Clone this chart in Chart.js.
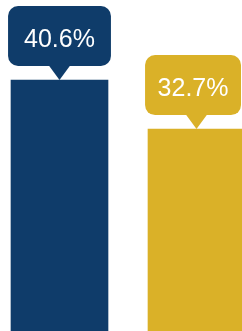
<!DOCTYPE html>
<html>
<head>
<meta charset="utf-8">
<script src="https://cdn.jsdelivr.net/npm/chart.js@4"></script>
<style>
  html, body { margin: 0; padding: 0; background: #fff; overflow: hidden; }
  #wrap { position: relative; width: 242px; height: 331px; overflow: hidden; }
  #box { position: absolute; left: -9px; top: 0; width: 274px; height: 332px; }
</style>
</head>
<body>
<div id="wrap"><div id="box"><canvas id="chart"></canvas></div></div>
<script>
const categories = ["A", "B"];
const values = [40.6, 32.7];
const valueLabels = ["40.6%", "32.7%"];
const barColors = ["#0F3C6A", "#DAB128"];

// callout above each bar, pointer touching the bar top
const callouts = {
  id: "callouts",
  afterDatasetsDraw(chart) {
    const ctx = chart.ctx;
    const meta = chart.getDatasetMeta(0);
    const visRight = 251; // right edge of the window in canvas px
    ctx.save();
    ctx.font = "25px 'Liberation Sans', Arial, sans-serif";
    meta.data.forEach((bar, i) => {
      const txt = valueLabels[i];
      const w = ctx.measureText(txt).width + 32;
      const h = 60, tipH = 14, half = 11, r = 10;
      const bottom = bar.y - tipH;
      const top = bottom - h;
      let left = bar.x - w / 2;
      let right = bar.x + w / 2;
      if (right > visRight - 1) right = visRight - 1;
      ctx.fillStyle = barColors[i];
      ctx.beginPath();
      ctx.roundRect(left, top, right - left, h, r);
      ctx.fill();
      ctx.beginPath();
      ctx.moveTo(bar.x - half, bottom - 1);
      ctx.lineTo(bar.x + half, bottom - 1);
      ctx.lineTo(bar.x, bar.y);
      ctx.closePath();
      ctx.fill();
      ctx.fillStyle = "#fff";
      ctx.textAlign = "center";
      ctx.textBaseline = "alphabetic";
      ctx.fillText(txt, (left + right) / 2, top + 40.5);
    });
    ctx.restore();
  }
};

new Chart(document.getElementById("chart"), {
  type: "bar",
  data: {
    labels: categories,
    datasets: [{
      data: values,
      backgroundColor: barColors,
      borderWidth: 0,
      barThickness: 97
    }]
  },
  options: {
    responsive: true,
    maintainAspectRatio: false,
    animation: false,
    layout: { padding: 0 },
    scales: {
      x: { display: false },
      y: { display: false, min: 0, max: 53.5 }
    },
    plugins: {
      legend: { display: false },
      tooltip: { enabled: false }
    }
  },
  plugins: [callouts]
});
</script>
</body>
</html>
